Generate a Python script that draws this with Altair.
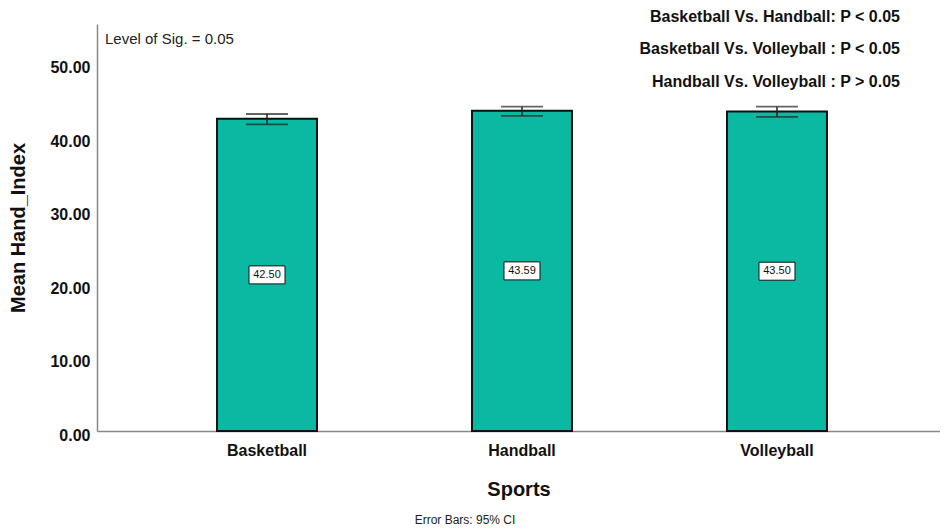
import altair as alt
import pandas as pd

sports = ["Basketball", "Handball", "Volleyball"]
means = [42.50, 43.59, 43.50]
ci_low = [41.75, 42.90, 42.75]
ci_high = [43.15, 44.15, 44.15]
y_ticks = [0, 10, 20, 30, 40, 50]
notes = [
    "Basketball Vs. Handball: P < 0.05",
    "Basketball Vs. Volleyball : P < 0.05",
    "Handball Vs. Volleyball : P > 0.05",
]
sig_note = "Level of Sig. = 0.05"
footer = "Error Bars: 95% CI"

df = pd.DataFrame({"Sports": sports, "mean": means, "lo": ci_low, "hi": ci_high})
df["half"] = df["mean"] / 2
df["lab"] = df["mean"].map(lambda v: f"{v:.2f}")

FONT = "Liberation Sans"

x = alt.X("Sports:N", sort=sports,
          scale=alt.Scale(paddingInner=0.608, paddingOuter=0.457, align=0.515),
          axis=alt.Axis(title="Sports", labelAngle=0, ticks=False, labelFont=FONT,
                        labelFontSize=16, labelFontWeight="bold", labelColor="#111",
                        labelPadding=11, titleFont=FONT, titleFontSize=20,
                        titleFontWeight="bold", titleColor="#111", titlePadding=21,
                        domainColor="#888", domainWidth=1.5))
yscale = alt.Scale(domain=[0, 55.4], nice=False, zero=True)

bars = alt.Chart(df).mark_bar(color="#0BB8A1", stroke="#111", strokeWidth=2).encode(
    x=x,
    y=alt.Y("mean:Q", scale=yscale,
            axis=alt.Axis(title="Mean Hand_Index", values=y_ticks, format=".2f",
                          grid=False, ticks=False, labelFont=FONT, labelFontSize=16,
                          labelFontWeight="bold", labelColor="#111", labelPadding=7,
                          labelOffset=4, titleFont=FONT, titleFontSize=20,
                          titleFontWeight="bold", titleColor="#111", titlePadding=21,
                          domainColor="#888", domainWidth=1.5)),
)

rule = alt.Chart(df).mark_rule(color="#222", strokeWidth=1.5).encode(
    x=alt.X("Sports:N", sort=sports), y="lo:Q", y2="hi:Q")
cap_lo = alt.Chart(df).mark_tick(color="#222", size=42, thickness=1.8).encode(
    x=alt.X("Sports:N", sort=sports), y="lo:Q")
cap_hi = alt.Chart(df).mark_tick(color="#222", size=42, thickness=1.8).encode(
    x=alt.X("Sports:N", sort=sports), y="hi:Q")

box = alt.Chart(df).mark_point(shape="M-1,-0.5H1V0.5H-1Z", size=1296, filled=True,
                               fill="white", stroke="#111", strokeWidth=1,
                               opacity=1).encode(
    x=alt.X("Sports:N", sort=sports), y="half:Q")
lab = alt.Chart(df).mark_text(font=FONT, fontSize=11, color="#111",
                              baseline="middle").encode(
    x=alt.X("Sports:N", sort=sports), y="half:Q", text="lab:N")

notes_df = pd.DataFrame({"t": notes, "py": [-7, 25, 58]})
note_marks = alt.Chart(notes_df).mark_text(font=FONT, fontSize=16, fontWeight="bold",
                                           color="#111", align="right",
                                           baseline="middle").encode(
    x=alt.value(803), y=alt.Y("py:Q", scale=None), text="t:N")

sig_df = pd.DataFrame({"t": [sig_note]})
sig_mark = alt.Chart(sig_df).mark_text(font=FONT, fontSize=15, color="#222",
                                       align="left", baseline="middle").encode(
    x=alt.value(8), y=alt.value(15), text="t:N")

foot_df = pd.DataFrame({"t": [footer]})
foot_mark = alt.Chart(foot_df).mark_text(font=FONT, fontSize=12, color="#222",
                                         align="center", baseline="middle").encode(
    x=alt.value(368), y=alt.value(496), text="t:N")

chart = alt.layer(bars, rule, cap_lo, cap_hi, box, lab, note_marks, sig_mark,
                  foot_mark).properties(
    width=843, height=407,
    autosize=alt.AutoSizeParams(type="none"),
    padding={"left": 89, "top": 16, "right": 0, "bottom": 98},
    background="white",
).configure_view(strokeWidth=0)

chart.save("out.html", embed_options={"renderer": "svg", "actions": False})
